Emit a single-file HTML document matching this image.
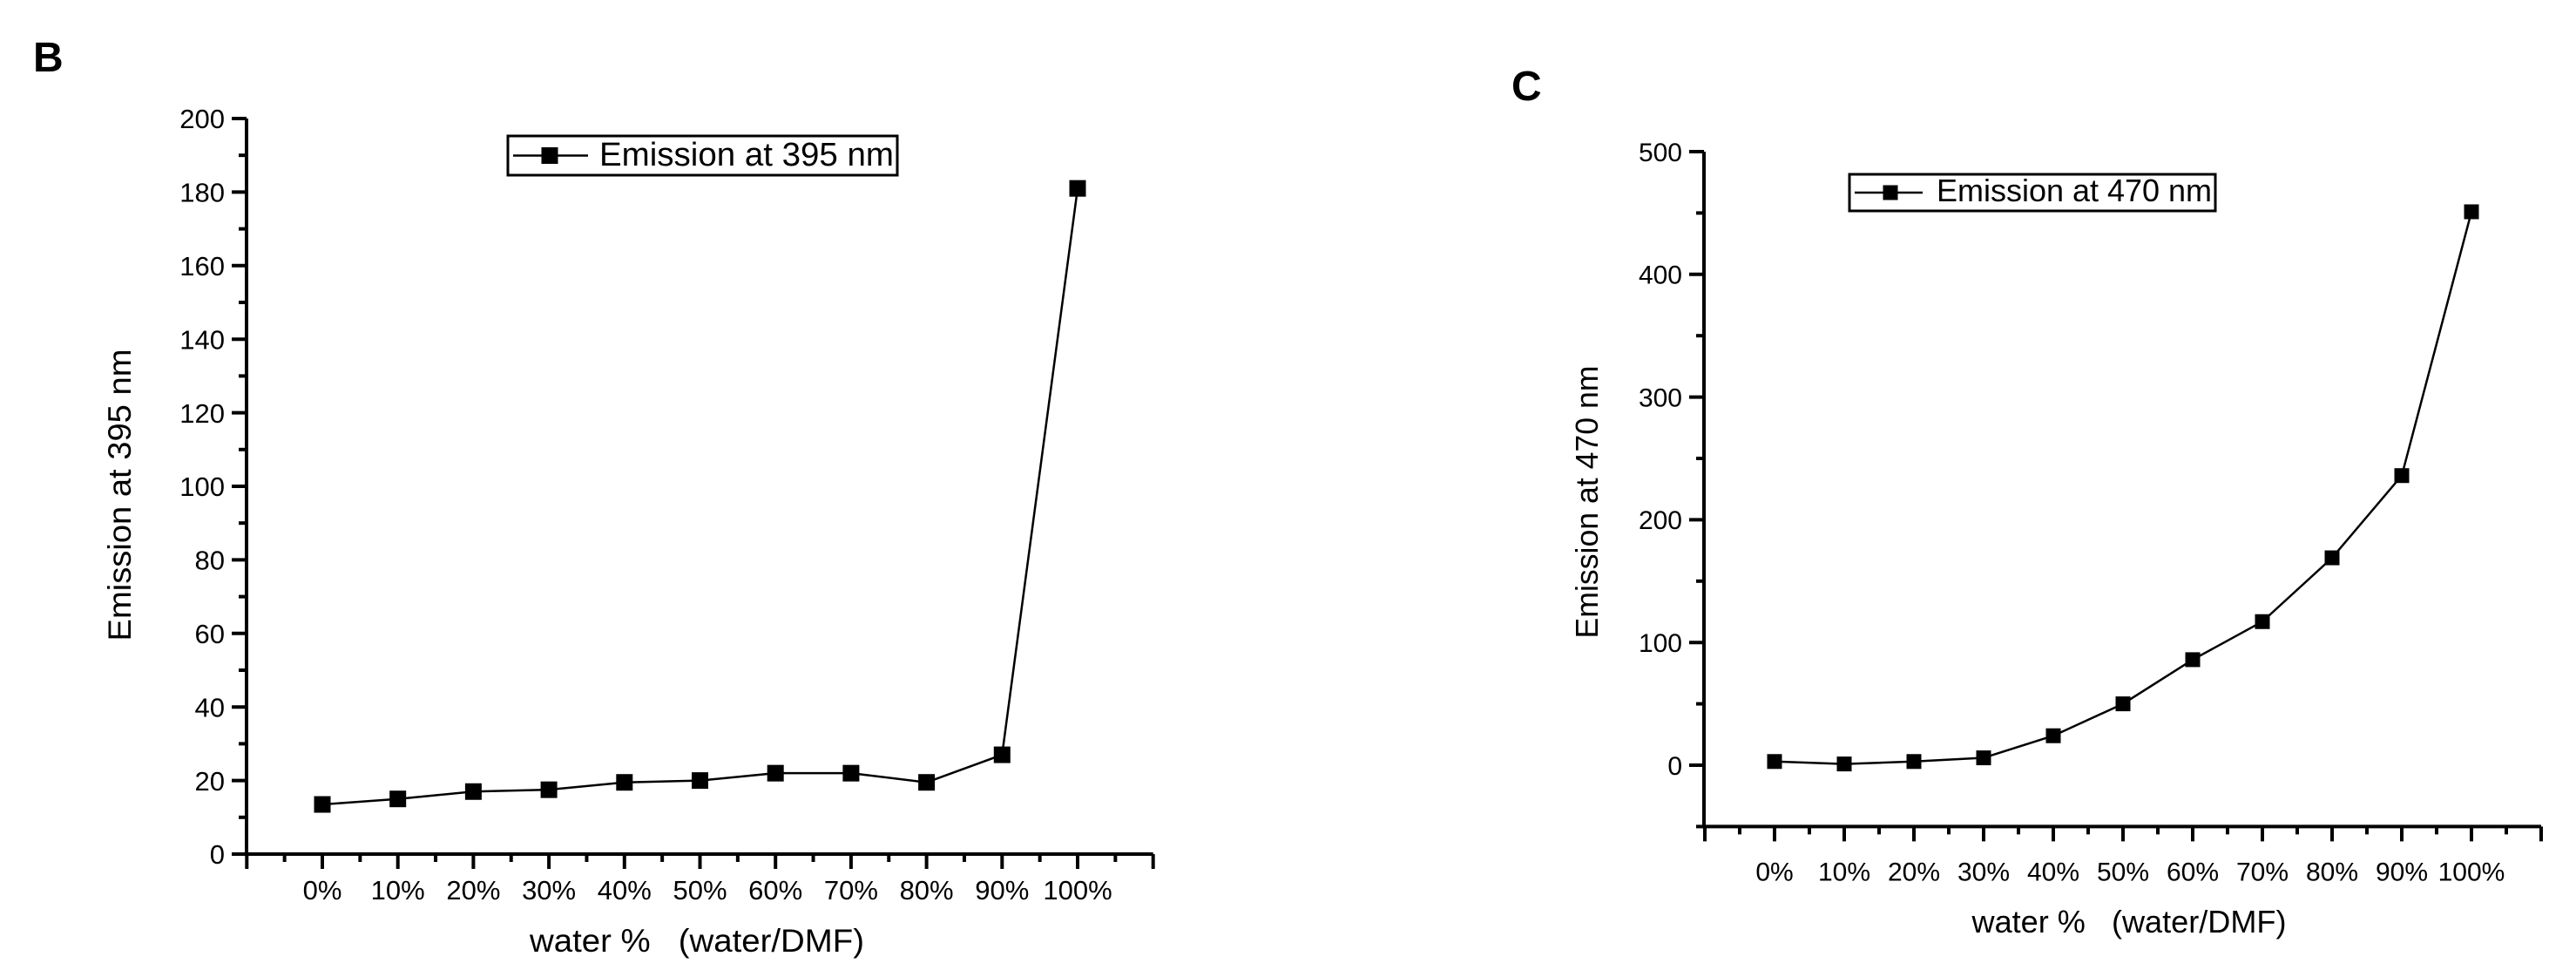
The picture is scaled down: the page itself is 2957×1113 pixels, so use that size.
<!DOCTYPE html>
<html><head><meta charset="utf-8"><style>
html,body{margin:0;padding:0;background:#fff}
svg{display:block;font-family:"Liberation Sans",Arial,sans-serif}
</style></head><body>
<svg id="fig" width="2957" height="1113" viewBox="0 0 2957 1113">
<text x="38" y="82" font-size="48" font-weight="bold">B</text>
<text x="1735" y="115" font-size="48" font-weight="bold">C</text>
</svg>
<script>
const categories = ["0%","10%","20%","30%","40%","50%","60%","70%","80%","90%","100%"];
const seriesB = [13.5,15,17,17.5,19.5,20,22,22,19.5,27,181];
const seriesC = [3,1,3,6,24,50,86,117,169,236,451];
const ticksB = [0,20,40,60,80,100,120,140,160,180,200];
const ticksC = [0,100,200,300,400,500];
const NS = "http://www.w3.org/2000/svg";
const svg = document.getElementById("fig");
function mk(tag, attrs, parent){const e=document.createElementNS(NS,tag);for(const k in attrs)e.setAttribute(k,attrs[k]);(parent||svg).appendChild(e);return e;}

function chart(cfg){
  const g = mk("g",{});
  
  
  const xS = i => cfg.x0 + i*cfg.dx;
  const yS = v => cfg.yZero - (v)*(cfg.yZero-cfg.yTop)/cfg.yMaxV;
  const axL = cfg.axisX, axB = yS(cfg.yMin), axR = xS(categories.length);
  const ax = mk("path",{d:`M${axL} ${yS(cfg.yMaxV)} V${axB} H${axR}`,stroke:"#000","stroke-width":4,fill:"none"},g);
  
  
  for(let i=-1;i<=categories.length;i++){
    const x=xS(i);
    mk("line",{x1:x,y1:axB,x2:x,y2:axB+17,stroke:"#000","stroke-width":4},g);
    if(i<categories.length){const xm=x+cfg.dx/2;mk("line",{x1:xm,y1:axB,x2:xm,y2:axB+9,stroke:"#000","stroke-width":4},g);}
  }
  categories.forEach((c,i)=>{
    const t=mk("text",{x:xS(i),y:axB+cfg.xlabOff,"font-size":cfg.fs,"text-anchor":"middle"},g);
    t.textContent=c;
    
    
  });
  const step = cfg.yTicks[1]-cfg.yTicks[0];
  for(let v=cfg.yMin; v<=cfg.yMaxV+0.001; v+=step/2){
    const y=yS(v); const major = Math.abs((v/step)-Math.round(v/step))<0.01;
    mk("line",{x1:axL,y1:y,x2:axL-(major?17:9),y2:y,stroke:"#000","stroke-width":4},g);
  }
  cfg.yTicks.forEach(v=>{
    const t=mk("text",{x:axL-25,y:yS(v)+cfg.fs*0.36,"font-size":cfg.fs,"text-anchor":"end"},g);
    t.textContent=v;
    
    
  });
  const data=cfg.data;
  const pl=mk("polyline",{points:data.map((v,i)=>xS(i)+","+yS(v)).join(" "),fill:"none",stroke:"#000","stroke-width":2.5},g);
  
  
  data.forEach((v,i)=>{
    const r=mk("rect",{x:xS(i)-cfg.ms/2,y:yS(v)-cfg.ms/2,width:cfg.ms,height:cfg.ms,fill:"#000"},g);
    
    
  });
  const xt=mk("text",{x:cfg.xtX,y:cfg.xtY,"font-size":cfg.tfs,"text-anchor":"middle",textLength:cfg.xtW,lengthAdjust:"spacingAndGlyphs"},g);
  xt.textContent="water %\u00a0\u00a0\u00a0(water/DMF)";
  
  
  const yt=mk("text",{x:0,y:0,"font-size":cfg.tfs,"text-anchor":"middle",textLength:cfg.ytW,lengthAdjust:"spacingAndGlyphs",transform:`translate(${cfg.ytX},${cfg.ytY}) rotate(-90)`},g);
  yt.textContent=cfg.ytitle;
  
  
  const L=cfg.leg;
  const lg=mk("g",{},g);
  
  
  mk("rect",{x:L.x,y:L.y,width:L.w,height:L.h,fill:"#fff",stroke:"#000","stroke-width":3},lg);
  const ly=L.y+L.h/2;
  mk("line",{x1:L.x+6,y1:ly,x2:L.x+L.le,y2:ly,stroke:"#000","stroke-width":2.5},lg);
  mk("rect",{x:L.x+L.mx-cfg.ms/2,y:ly-cfg.ms/2,width:cfg.ms,height:cfg.ms,fill:"#000"},lg);
  const lt=mk("text",{x:L.x+L.tx,y:L.y+L.h-11,"font-size":L.fs,textLength:L.tw,lengthAdjust:"spacingAndGlyphs"},lg);
  lt.textContent=cfg.ytitle;
  
  
}

chart({name:"chart-b",data:seriesB,yTicks:ticksB,x0:370,dx:86.7,axisX:283,yZero:980,yTop:136,yMaxV:200,yMin:0,
  fs:31,tfs:37,ms:19,xlabOff:52,xtX:800,xtY:1092,xtW:384,ytX:150,ytY:568,ytW:335,ytitle:"Emission at 395 nm",
  leg:{x:583,y:156,w:447,h:45,tx:105,tw:338,fs:38,le:92,mx:48}});
chart({name:"chart-c",data:seriesC,yTicks:ticksC,x0:2037,dx:80,axisX:1956,yZero:878,yTop:174,yMaxV:500,yMin:-50,
  fs:30,tfs:36,ms:17,xlabOff:62,xtX:2444,xtY:1070,xtW:361,ytX:1834,ytY:576,ytW:313,ytitle:"Emission at 470 nm",
  leg:{x:2123,y:200,w:420,h:42,tx:100,tw:316,fs:36,le:84,mx:47}});
</script>
</body></html>
